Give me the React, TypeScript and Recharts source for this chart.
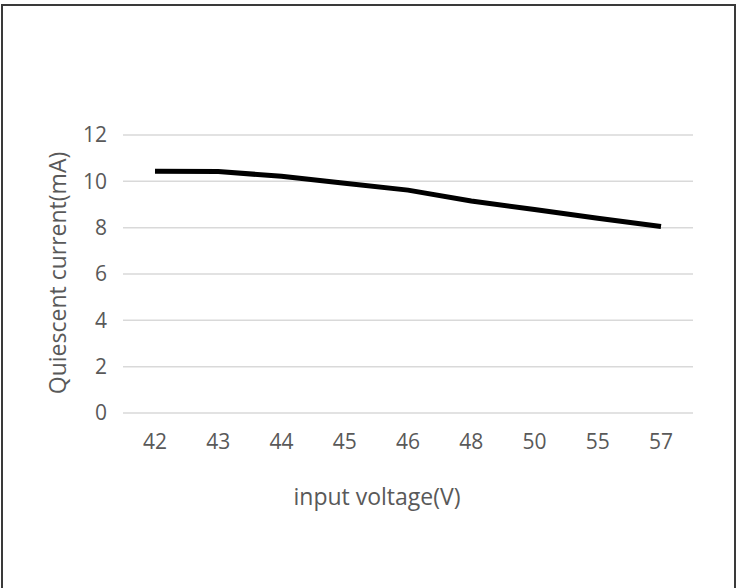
import { LineChart, Line, XAxis, YAxis, CartesianGrid, Label } from "recharts";

// input voltage (V) categories
const voltages = ["42", "43", "44", "45", "46", "48", "50", "55", "57"];
// quiescent current (mA)
const current = [10.44, 10.42, 10.22, 9.92, 9.62, 9.15, 8.78, 8.41, 8.05];
const yTicks = [0, 2, 4, 6, 8, 10, 12];

const data = voltages.map((v, i) => ({ voltage: v, current: current[i] }));

const textColor = "#595959";
const font = "'Open Sans', sans-serif";

export default function App() {
  return (
    <div
      style={{
        position: "fixed",
        left: 0,
        top: 0,
        width: 742,
        height: 588,
        background: "#fff",
        overflow: "hidden",
        fontFamily: font,
      }}
    >
      {/* outer frame, bottom edge runs off the picture */}
      <div
        style={{
          position: "absolute",
          left: 1,
          top: 4,
          width: 731,
          height: 600,
          border: "2px solid #3a3a3a",
        }}
      />
      <div style={{ position: "absolute", left: 0, top: 0 }}>
        <LineChart
          width={742}
          height={588}
          data={data}
          margin={{ top: 135, right: 49, bottom: 75, left: 0 }}
        >
          <CartesianGrid vertical={false} stroke="#d9d9d9" strokeWidth={1.5} />
          <XAxis
            dataKey="voltage"
            height={100}
            padding={{ left: 32, right: 32 }}
            axisLine={false}
            tickLine={false}
            tickSize={0}
            tickMargin={21}
            tick={{ fill: textColor, fontSize: 21, fontFamily: font }}
          >
            <Label
              content={() => (
                <text
                  x={377}
                  y={496}
                  textAnchor="middle"
                  dominantBaseline="central"
                  fill={textColor}
                  fontSize={23}
                  fontFamily={font}
                >
                  input voltage(V)
                </text>
              )}
            />
          </XAxis>
          <YAxis
            width={123}
            domain={[0, 12]}
            ticks={yTicks}
            axisLine={false}
            tickLine={false}
            tickSize={0}
            tickMargin={16}
            tick={{ fill: textColor, fontSize: 21, fontFamily: font }}
          >
            <Label
              content={() => (
                <text
                  x={57}
                  y={273}
                  transform="rotate(-90 57 273)"
                  textAnchor="middle"
                  dominantBaseline="central"
                  fill={textColor}
                  fontSize={23}
                  fontFamily={font}
                >
                  Quiescent current(mA)
                </text>
              )}
            />
          </YAxis>
          <Line
            type="linear"
            dataKey="current"
            stroke="#000"
            strokeWidth={5}
            dot={false}
            activeDot={false}
            isAnimationActive={false}
          />
        </LineChart>
      </div>
    </div>
  );
}
